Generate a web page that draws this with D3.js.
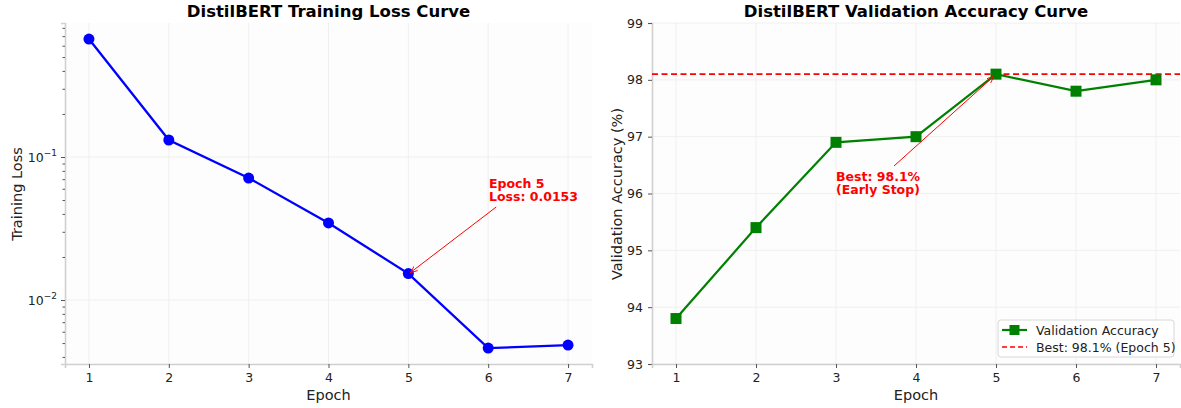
<!DOCTYPE html>
<html><head><meta charset="utf-8">
<script src="https://cdn.jsdelivr.net/npm/d3@7"></script>
<style>body{margin:0;background:#fff}svg{font-family:"DejaVu Sans",sans-serif}</style>
</head><body><svg id="c" width="1181" height="408"></svg>
<script>
const epochs = [1,2,3,4,5,6,7];
const trainLoss = [0.668, 0.1315, 0.0713, 0.0346, 0.0153, 0.00461, 0.00484];
const valAcc = [93.8, 95.4, 96.9, 97.0, 98.1, 97.8, 98.0];
const bestAcc = 98.1, bestEpoch = 5;
const accTicks = [93,94,95,96,97,98,99];
const lossMajor = [0.01, 0.1];

const svg = d3.select("#c");
const pTop = 23, pBot = 364;

function frame(g, x0, x1) {
  g.append("rect").attr("x", x0).attr("y", pTop).attr("width", x1-x0).attr("height", pBot-pTop).attr("fill","#fdfdfd");
}
// ---------- Left ----------
const L = {x0:65, x1:592};
const xL = d3.scaleLinear().domain([0.7,7.3]).range([L.x0,L.x1]);
const yL = d3.scaleLog().domain([0.00357, 0.865]).range([pBot, pTop]);
const gL = svg.append("g");
frame(gL, L.x0, L.x1);
epochs.forEach(e=>gL.append("line").attr("x1",xL(e)).attr("x2",xL(e)).attr("y1",pTop).attr("y2",pBot).attr("stroke","#ececec").attr("stroke-width",0.8));
lossMajor.forEach(v=>gL.append("line").attr("x1",L.x0).attr("x2",L.x1).attr("y1",yL(v)).attr("y2",yL(v)).attr("stroke","#ececec").attr("stroke-width",0.8));
const minor = [];
[0.001,0.01,0.1].forEach(b=>{for(let k=2;k<=9;k++){const v=b*k; if(v>=0.00357&&v<=0.865) minor.push(v);}});
const yAxL = d3.axisLeft(yL).tickValues(lossMajor).tickSize(4).tickPadding(4).tickFormat(()=>"");
const gyL = gL.append("g").attr("transform",`translate(${L.x0},0)`).call(yAxL);
gyL.selectAll(".tick").each(function(d){
  const t=d3.select(this).select("text");
  t.text(null);
  t.append("tspan").text("10");
  t.append("tspan").attr("dy",-6).text(d===0.1?"−1":"−2");
});
gL.append("g").attr("transform",`translate(${L.x0},0)`).call(d3.axisLeft(yL).tickValues(minor).tickSize(2.5).tickFormat(""))
  .call(g=>g.select(".domain").remove()).selectAll("line").attr("stroke","#555");
const gxL = gL.append("g").attr("transform",`translate(0,${pBot})`).call(d3.axisBottom(xL).tickValues(epochs).tickSize(4).tickPadding(5).tickFormat(d3.format("d")));
[gyL,gxL].forEach(a=>{a.select(".domain").attr("stroke","#d0d0d0").attr("stroke-width",1.6);a.selectAll(".tick line").attr("stroke","#555");a.selectAll(".tick text").attr("font-size",12.5).attr("fill","#222").attr("font-family","DejaVu Sans");});
gyL.selectAll(".tick text tspan:nth-child(2)").attr("font-size",9);
gL.append("path").datum(epochs).attr("fill","none").attr("stroke","#0000ff").attr("stroke-width",2.3)
  .attr("d", d3.line().x(d=>xL(d)).y((d,i)=>yL(trainLoss[i])));
gL.selectAll("circle.p").data(epochs).join("circle").attr("cx",d=>xL(d)).attr("cy",(d,i)=>yL(trainLoss[i])).attr("r",5.5).attr("fill","#0000ff");
gL.append("text").attr("x",(L.x0+L.x1)/2).attr("y",17).attr("text-anchor","middle").attr("font-weight","bold").attr("font-size",16.5).text("DistilBERT Training Loss Curve");
gL.append("text").attr("x",(L.x0+L.x1)/2).attr("y",400).attr("text-anchor","middle").attr("font-size",14.5).attr("fill","#222").text("Epoch");
gL.append("text").attr("transform","translate(22,194) rotate(-90)").attr("text-anchor","middle").attr("font-size",14.5).attr("fill","#222").text("Training Loss");
const defs = svg.append("defs");
defs.append("marker").attr("id","ah").attr("viewBox","0 0 10 10").attr("refX",10).attr("refY",5).attr("markerWidth",7).attr("markerHeight",7).attr("orient","auto").attr("markerUnits","userSpaceOnUse")
  .append("path").attr("d","M0,1 L10,5 L0,9").attr("fill","none").attr("stroke","red").attr("stroke-width",1.3);
const aL = gL.append("text").attr("fill","red").attr("font-weight","bold").attr("font-size",12.5);
aL.append("tspan").attr("x",489).attr("y",188).text("Epoch " + bestEpoch);
aL.append("tspan").attr("x",489).attr("y",201).text("Loss: " + trainLoss[bestEpoch-1].toFixed(4));
gL.append("line").attr("x1",xL(6.0)+8).attr("y1",207).attr("x2",xL(bestEpoch)+2).attr("y2",yL(trainLoss[bestEpoch-1])-1).attr("stroke","red").attr("stroke-width",1).attr("marker-end","url(#ah)");

// ---------- Right ----------
const R = {x0:652, x1:1180};
const xR = d3.scaleLinear().domain([0.7,7.3]).range([R.x0,R.x1]);
const yR = d3.scaleLinear().domain([93,99]).range([pBot, pTop]);
const gR = svg.append("g");
frame(gR, R.x0, R.x1);
epochs.forEach(e=>gR.append("line").attr("x1",xR(e)).attr("x2",xR(e)).attr("y1",pTop).attr("y2",pBot).attr("stroke","#ececec").attr("stroke-width",0.8));
accTicks.forEach(v=>gR.append("line").attr("x1",R.x0).attr("x2",R.x1).attr("y1",yR(v)).attr("y2",yR(v)).attr("stroke","#ececec").attr("stroke-width",0.8));
const gyR = gR.append("g").attr("transform",`translate(${R.x0},0)`).call(d3.axisLeft(yR).tickValues(accTicks).tickSize(4).tickPadding(5).tickFormat(d3.format("d")));
const gxR = gR.append("g").attr("transform",`translate(0,${pBot})`).call(d3.axisBottom(xR).tickValues(epochs).tickSize(4).tickPadding(5).tickFormat(d3.format("d")));
[gyR,gxR].forEach(a=>{a.select(".domain").attr("stroke","#d0d0d0").attr("stroke-width",1.6);a.selectAll(".tick line").attr("stroke","#555");a.selectAll("text").attr("font-size",12.5).attr("fill","#222").attr("font-family","DejaVu Sans");});
gR.append("line").attr("x1",R.x0).attr("x2",R.x1).attr("y1",yR(bestAcc)).attr("y2",yR(bestAcc)).attr("stroke","#ff0000").attr("stroke-width",1.6).attr("stroke-dasharray","6,3.5");
gR.append("path").datum(epochs).attr("fill","none").attr("stroke","#008000").attr("stroke-width",2.2)
  .attr("d", d3.line().x(d=>xR(d)).y((d,i)=>yR(valAcc[i])));
gR.selectAll("rect.m").data(epochs).join("rect").attr("x",d=>xR(d)-5.5).attr("y",(d,i)=>yR(valAcc[i])-5.5).attr("width",11).attr("height",11).attr("fill","#008000");
gR.append("text").attr("x",(R.x0+R.x1)/2).attr("y",17).attr("text-anchor","middle").attr("font-weight","bold").attr("font-size",16.5).text("DistilBERT Validation Accuracy Curve");
gR.append("text").attr("x",(R.x0+R.x1)/2).attr("y",400).attr("text-anchor","middle").attr("font-size",14.5).attr("fill","#222").text("Epoch");
gR.append("text").attr("transform","translate(622,194) rotate(-90)").attr("text-anchor","middle").attr("font-size",14.5).attr("fill","#222").text("Validation Accuracy (%)");
const aR = gR.append("text").attr("fill","red").attr("font-weight","bold").attr("font-size",12.5);
aR.append("tspan").attr("x",836).attr("y",181).text("Best: " + bestAcc + "%");
aR.append("tspan").attr("x",836).attr("y",194).text("(Early Stop)");
gR.append("line").attr("x1",894).attr("y1",166).attr("x2",xR(bestEpoch)-2).attr("y2",yR(bestAcc)+2).attr("stroke","red").attr("stroke-width",1).attr("marker-end","url(#ah)");
const lg = gR.append("g").attr("transform","translate(998,320)");
lg.append("rect").attr("width",176).attr("height",37).attr("rx",3).attr("fill","#fff").attr("fill-opacity",0.85).attr("stroke","#d8d8d8");
lg.append("line").attr("x1",4).attr("x2",29).attr("y1",10).attr("y2",10).attr("stroke","#008000").attr("stroke-width",2.2);
lg.append("rect").attr("x",11.5).attr("y",5).attr("width",10).attr("height",10).attr("fill","#008000");
lg.append("text").attr("x",38).attr("y",14.5).attr("font-size",12.5).attr("fill","#222").text("Validation Accuracy");
lg.append("line").attr("x1",4).attr("x2",29).attr("y1",27).attr("y2",27).attr("stroke","#ff0000").attr("stroke-width",1.6).attr("stroke-dasharray","5,3");
lg.append("text").attr("x",38).attr("y",31.5).attr("font-size",12.5).attr("fill","#222").text(`Best: ${bestAcc}% (Epoch ${bestEpoch})`);
</script></body></html>
